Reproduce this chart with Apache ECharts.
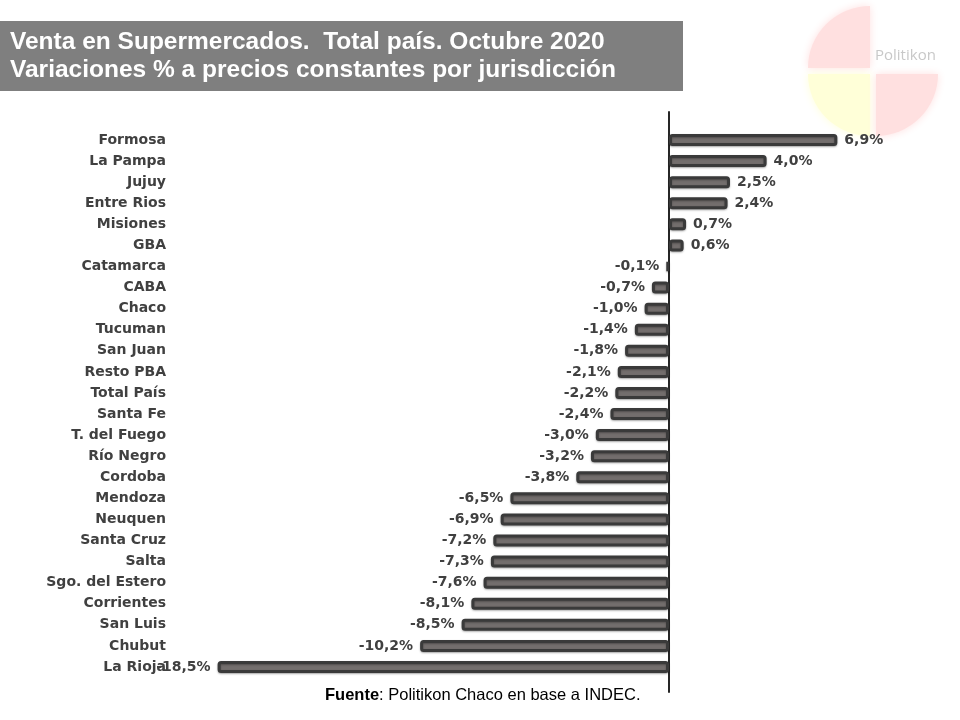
<!DOCTYPE html>
<html>
<head>
<meta charset="utf-8">
<title>Venta en Supermercados</title>
<script src="https://cdn.jsdelivr.net/npm/echarts@6/dist/echarts.min.js"></script>
<style>
  html, body { margin: 0; padding: 0; background: #fff; }
  #main { width: 960px; height: 720px; }
</style>
</head>
<body>
<div id="main"></div>
<script>
// jurisdicciones, de arriba hacia abajo
var categories = ['Formosa', 'La Pampa', 'Jujuy', 'Entre Rios', 'Misiones', 'GBA', 'Catamarca',
    'CABA', 'Chaco', 'Tucuman', 'San Juan', 'Resto PBA', 'Total País', 'Santa Fe', 'T. del Fuego',
    'Río Negro', 'Cordoba', 'Mendoza', 'Neuquen', 'Santa Cruz', 'Salta', 'Sgo. del Estero',
    'Corrientes', 'San Luis', 'Chubut', 'La Rioja'];
// variación % a precios constantes
var variacion = [6.9, 4.0, 2.5, 2.4, 0.7, 0.6, -0.1, -0.7, -1.0, -1.4, -1.8, -2.1, -2.2, -2.4,
    -3.0, -3.2, -3.8, -6.5, -6.9, -7.2, -7.3, -7.6, -8.1, -8.5, -10.2, -18.5];

var titleLines = ['Venta en Supermercados.  Total país. Octubre 2020',
    'Variaciones % a precios constantes por jurisdicción'];

var myChart = echarts.init(document.getElementById('main'));

var barData = variacion.map(function (v) {
    return {
        value: v,
        label: { position: v < 0 ? 'left' : 'right' }
    };
});

var option = {
    backgroundColor: '#ffffff',
    animation: false,
    textStyle: { fontFamily: 'Liberation Sans, Arial, sans-serif' },
    graphic: [
        // logo Politikon (decorativo)
        {
            type: 'group', left: 808, top: 6, silent: true,
            children: [
                { type: 'sector', shape: { cx: 68, cy: 66, r: 62, r0: 0, startAngle: Math.PI, endAngle: Math.PI * 1.5 },
                  position: [-3, -3], style: { fill: '#ffe0e0', shadowBlur: 8, shadowColor: '#ffe0e0' } },
                { type: 'sector', shape: { cx: 68, cy: 66, r: 62, r0: 0, startAngle: Math.PI * 0.5, endAngle: Math.PI },
                  position: [-3, 3], style: { fill: '#ffffd8', shadowBlur: 8, shadowColor: '#ffffd8' } },
                { type: 'sector', shape: { cx: 68, cy: 66, r: 62, r0: 0, startAngle: 0, endAngle: Math.PI * 0.5 },
                  position: [3, 3], style: { fill: '#ffe0e0', shadowBlur: 8, shadowColor: '#ffe0e0' } },
                { type: 'text', left: 70, top: 43, style: { text: 'Politikon', fill: '#c8c8c8',
                  font: '15px "Open Sans", sans-serif' } }
            ]
        },
        // caja del título
        {
            type: 'rect', left: 0, top: 21, silent: true,
            shape: { width: 683, height: 70 },
            style: { fill: '#7f7f7f' }
        },
        {
            type: 'text', left: 10, top: 28,
            style: {
                text: titleLines.join('\n'),
                fill: '#ffffff',
                font: 'bold 24.5px "Liberation Sans", Arial, sans-serif',
                lineHeight: 28
            }
        }
    ],
    title: {
        text: '{b|Fuente}: Politikon Chaco en base a INDEC.',
        left: 320,
        top: 682,
        textStyle: {
            fontSize: 16.5,
            fontWeight: 'normal',
            color: '#000',
            rich: {
                b: { fontSize: 16.5, fontWeight: 'bold', color: '#000' }
            }
        }
    },
    grid: [
        { left: 181, right: 47, top: 129.5, bottom: 42.5 },
        { left: 181, right: 47, top: 112, bottom: 28 }
    ],
    xAxis: [
        { type: 'value', gridIndex: 0, min: -20, max: 10, show: false },
        { type: 'value', gridIndex: 1, min: -20, max: 10, show: false }
    ],
    yAxis: [
        {
            type: 'category', gridIndex: 0, data: categories, inverse: true,
            axisLine: { show: false, onZero: false },
            axisTick: { show: false },
            axisLabel: { margin: 15, color: '#404040', fontSize: 14, fontWeight: 'bold',
                fontFamily: '"DejaVu Sans", sans-serif' }
        },
        {
            type: 'value', gridIndex: 1, min: 0, max: 1,
            axisLine: { show: true, onZero: true, lineStyle: { color: '#262626', width: 2 } },
            axisTick: { show: false },
            axisLabel: { show: false },
            splitLine: { show: false }
        }
    ],
    series: [
        {
            name: 'Variación %',
            type: 'bar',
            xAxisIndex: 0,
            yAxisIndex: 0,
            data: barData,
            barWidth: 12,
            itemStyle: {
                color: '#736e6d', borderColor: '#3a3a3a', borderWidth: 3, borderRadius: 2,
                shadowBlur: 2, shadowOffsetY: 1, shadowColor: 'rgba(0,0,0,0.3)'
            },
            label: {
                show: true,
                distance: 7,
                color: '#404040',
                fontSize: 14,
                fontWeight: 'bold',
                fontFamily: '"DejaVu Sans", sans-serif',
                formatter: function (p) {
                    return p.value.toFixed(1).replace('.', ',') + '%';
                }
            }
        }
    ]
};
myChart.setOption(option);
</script>
</body>
</html>
